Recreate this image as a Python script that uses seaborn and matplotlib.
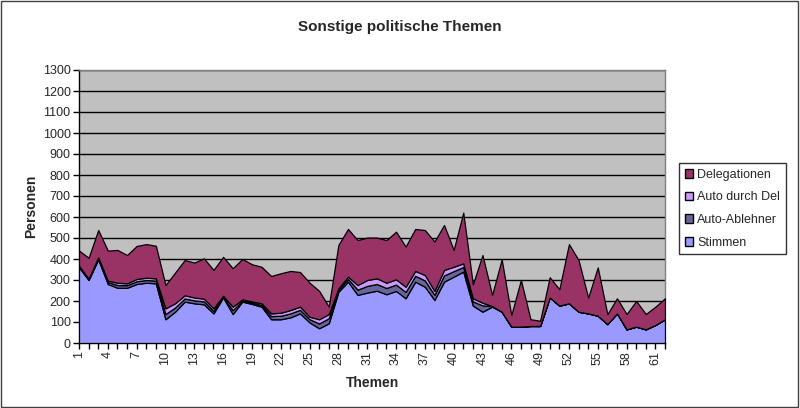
import matplotlib
matplotlib.use("Agg")
import matplotlib.pyplot as plt
import seaborn as sns
import numpy as np
import pandas as pd
from matplotlib.patches import Patch, Rectangle

# values
themen = list(range(1, 63))
stimmen = [360, 300, 398, 281, 263, 263, 281, 287, 284, 113,
           149, 197, 189, 184, 141, 217, 138, 197, 186, 173,
           113, 113, 122, 141, 98, 70, 94, 244, 292, 229,
           240, 249, 232, 248, 213, 292, 268, 205, 292, 316,
           340, 178, 149, 173, 149, 78, 78, 81, 81, 217,
           178, 189, 149, 141, 130, 90, 141, 65, 78, 65,
           86, 113]
auto_ablehner = [5, 4, 6, 9, 13, 12, 13, 13, 13, 25,
                 20, 15, 14, 14, 12, 4, 18, 6, 6, 8,
                 15, 17, 19, 17, 15, 23, 24, 9, 13, 25,
                 32, 32, 30, 30, 30, 28, 30, 24, 30, 26,
                 22, 20, 30, 2, 0, 0, 0, 0, 0, 0,
                 0, 0, 0, 0, 0, 0, 0, 0, 0, 0,
                 0, 0]
auto_durch_del = [3, 2, 4, 7, 11, 9, 11, 11, 11, 27,
                  20, 15, 14, 13, 12, 4, 17, 5, 6, 8,
                  13, 14, 16, 15, 12, 20, 20, 7, 11, 22,
                  28, 27, 25, 25, 25, 23, 26, 19, 26, 21,
                  17, 15, 13, 1, 0, 0, 0, 0, 0, 0,
                  0, 0, 0, 0, 0, 0, 0, 0, 0, 0,
                  0, 0]
delegationen = [72, 100, 130, 143, 156, 135, 157, 160, 155, 111,
                146, 168, 166, 192, 183, 185, 183, 192, 177, 174,
                178, 188, 186, 165, 162, 135, 35, 207, 227, 214,
                202, 194, 203, 227, 191, 200, 214, 235, 214, 80,
                242, 66, 227, 53, 249, 55, 222, 32, 25, 96,
                78, 282, 246, 75, 230, 47, 72, 73, 122, 73,
                87, 100]

df = pd.DataFrame({"Themen": themen, "Stimmen": stimmen,
                   "Auto-Ablehner": auto_ablehner,
                   "Auto durch Del": auto_durch_del,
                   "Delegationen": delegationen})

sns.set_style("white")
plt.rcParams['font.family'] = ['Liberation Sans', 'DejaVu Sans']

series = ["Stimmen", "Auto-Ablehner", "Auto durch Del", "Delegationen"]
colors = ["#9999FF", "#666699", "#CC99FF", "#993366"]

fig = plt.figure(figsize=(8, 4.08), dpi=100)
ax = fig.add_axes([79/800, 1-343/408, (665-79)/800, (343-70)/408])
ax.set_facecolor("#C0C0C0")

ax.stackplot(df["Themen"], [df[s] for s in series], colors=colors,
             edgecolor="black", linewidth=0.9, zorder=3)

ax.set_xlim(1, 62)
ax.set_ylim(0, 1300)
ax.set_yticks(range(0, 1301, 100))
ax.yaxis.grid(True, color="black", linewidth=1, zorder=1)
ax.set_axisbelow(True)
ax.set_xticks(themen)
ax.set_xticklabels([str(t) if (t - 1) % 3 == 0 else "" for t in themen],
                   rotation=90)
ax.tick_params(axis="both", labelsize=9, length=4, width=1, color="black",
               direction="out", pad=2)
ax.tick_params(axis="x", bottom=True)
ax.tick_params(axis="y", left=True)
for s in ["left", "bottom"]:
    ax.spines[s].set_color("black")
    ax.spines[s].set_linewidth(1)
for s in ["top", "right"]:
    ax.spines[s].set_color("#808080")
    ax.spines[s].set_linewidth(1)

ax.set_xlabel("Themen", fontsize=10, fontweight="bold", labelpad=8)
ax.set_ylabel("Personen", fontsize=10, fontweight="bold", labelpad=3)
fig.text(0.5, 1-27/408, "Sonstige politische Themen", ha="center",
         va="center", fontsize=11, fontweight="bold")

handles = [Patch(facecolor=c, edgecolor="black", label=s)
           for s, c in zip(series, colors)][::-1]
leg = fig.legend(handles=handles, loc="upper left",
                 bbox_to_anchor=(679/800, 1-163/408), frameon=True,
                 fancybox=False, edgecolor="black", fontsize=9,
                 handlelength=0.7, handleheight=0.7, handletextpad=0.3,
                 labelspacing=0.85, borderpad=0.45, borderaxespad=0)
leg.get_frame().set_linewidth(1)

fig.patches.append(Rectangle((0.001, 0.002), 0.997, 0.996, transform=fig.transFigure,
                             fill=False, edgecolor="#404040", linewidth=1))

fig.savefig("out.png", dpi=100)
